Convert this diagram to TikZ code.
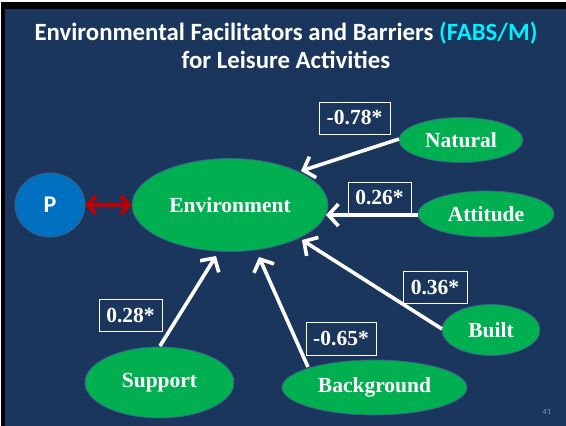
\documentclass[tikz,border=0pt]{standalone}
\usepackage{fontspec}
\setmainfont{Liberation Serif}
\newfontfamily\calib{Carlito}
\usetikzlibrary{shapes.geometric,arrows.meta}
\definecolor{navy}{HTML}{1B365D}
\definecolor{fgreen}{HTML}{00B050}
\definecolor{pblue}{HTML}{0070C0}
\definecolor{dred}{HTML}{C00000}
\definecolor{cyantxt}{HTML}{00F0FF}
\definecolor{edge}{HTML}{3F5F8F}
\definecolor{pgnum}{HTML}{8A9BB5}
\begin{document}
\begin{tikzpicture}[x=1pt,y=-1pt,
  oval/.style={ellipse, fill=fgreen, draw=edge, line width=0.8pt, inner sep=0pt,
    text=white, font=\fontsize{21.5}{24}\selectfont\bfseries},
  coef/.style={draw=white, line width=0.8pt, inner sep=0pt, text=white,
    font=\fontsize{21.5}{24}\selectfont\bfseries},
  arr/.style={draw=white, line width=3.6pt, -{Straight Barb[length=10pt,width=22pt]}},
  ttl/.style={text=white, font=\calib\fontsize{24.8}{28}\selectfont\bfseries, inner sep=0pt, anchor=base}
]
\useasboundingbox (0,0) rectangle (566,426);
\fill[white] (0,0) rectangle (566,426);
\fill[black] (1,2) rectangle (566,426);
\fill[navy] (5,9) rectangle (566,426);

\node[ttl] (t1) at (286,40) {Environmental Facilitators and Barriers \textcolor{cyantxt}{(FABS/M)}};
\node[ttl] (t2) at (286,68) {for Leisure Activities};

\node[ellipse, fill=pblue, draw=edge, line width=0.8pt, minimum width=70pt, minimum height=64pt,
  inner sep=0pt, text=white, font=\calib\fontsize{24}{28}\selectfont\bfseries] (p) at (50,205) {P};
\node[oval, minimum width=196pt, minimum height=93pt] (env) at (230,205) {Environment};
\node[oval, minimum width=124pt, minimum height=45pt] (nat) at (461,140) {Natural};
\node[oval, minimum width=136pt, minimum height=46pt] (att) at (486,214) {Attitude};
\node[oval, minimum width=98pt, minimum height=51pt] (blt) at (491,330) {Built};
\node[oval, minimum width=185pt, minimum height=55pt] (bkg) at (374.5,387.5) {Background};
\node[oval, minimum width=149pt, minimum height=71pt] (sup) at (159.5,382.5) {Support};

\node[coef, minimum width=71pt, minimum height=32pt] (c1) at (354.5,118) {-0.78*};
\node[coef, minimum width=63pt, minimum height=31pt] (c2) at (379.5,197.5) {0.26*};
\node[coef, minimum width=64pt, minimum height=32pt] (c3) at (435,287) {0.36*};
\node[coef, minimum width=70pt, minimum height=33pt] (c4) at (341,338.5) {-0.65*};
\node[coef, minimum width=63pt, minimum height=32pt] (c5) at (130.5,315) {0.28*};

\coordinate (tnat) at (301,171);
\coordinate (tatt) at (326,215);
\coordinate (tblt) at (302,240);
\coordinate (tbkg) at (259,257);
\coordinate (tsup) at (216,256);
\coordinate (snat) at (399,139);
\coordinate (satt) at (418,215);
\coordinate (sblt) at (442,329);
\coordinate (sbkg) at (308,367);
\coordinate (ssup) at (160,346);

\draw[arr] (snat) -- (tnat);
\draw[arr] (satt) -- (tatt);
\draw[arr] (sblt) -- (tblt);
\draw[arr] (sbkg) -- (tbkg);
\draw[arr] (ssup) -- (tsup);

\draw[draw=dred, line width=3.8pt, {Straight Barb[length=8pt,width=18pt]}-{Straight Barb[length=8pt,width=18pt]}]
  (p.east) -- (env.west);

\node[text=pgnum, font=\calib\fontsize{8}{9}\selectfont, inner sep=0pt] (pg) at (547,412) {41};
\end{tikzpicture}
\end{document}
